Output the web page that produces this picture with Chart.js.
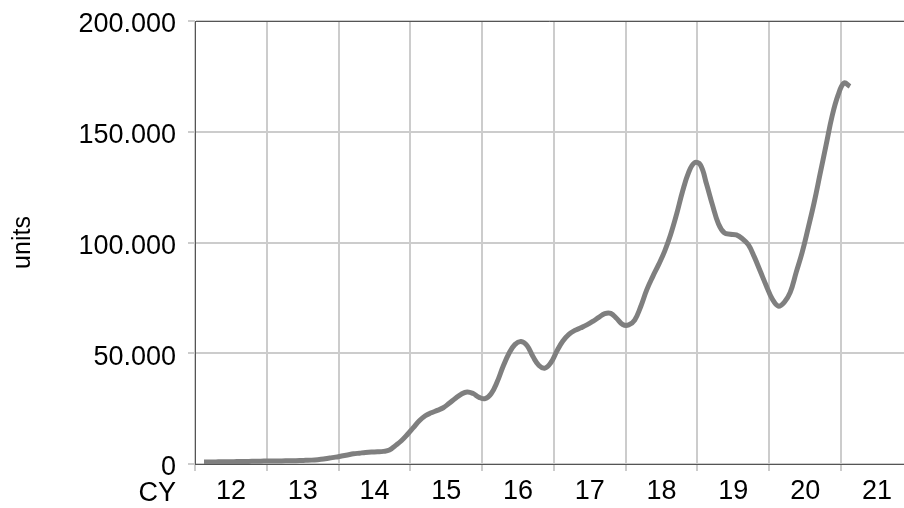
<!DOCTYPE html>
<html>
<head>
<meta charset="utf-8">
<title>units per month</title>
<script src="https://cdn.jsdelivr.net/npm/chart.js@4.4.1/dist/chart.umd.min.js"></script>
<style>
  html, body { margin: 0; padding: 0; background: #fff; }
  #wrap { width: 904px; height: 508px; }
</style>
</head>
<body>
<div id="wrap"><canvas id="unitsCanvas" width="904" height="508"></canvas></div>
<script>
// calendar years on the axis, label shown in the middle of each year
const years = [2012, 2013, 2014, 2015, 2016, 2017, 2018, 2019, 2020, 2021];
const yearLabels = ['12', '13', '14', '15', '16', '17', '18', '19', '20', '21'];
const yTicks = [0, 50000, 100000, 150000, 200000];

// monthly units, series starts in Feb 2012
const firstMonth = 2;
const u2012 = [900, 900, 950, 1000, 1000, 1050, 1100, 1150, 1200, 1250, 1300];
const u2013 = [1350, 1400, 1400, 1450, 1500, 1550, 1650, 1750, 1950, 2250, 2700, 3100];
const u2014 = [3600, 4100, 4600, 4900, 5200, 5400, 5500, 5700, 6300, 8300, 10500, 13300];
const u2015 = [16400, 19500, 21800, 23100, 24200, 25400, 27400, 29600, 31500, 32500, 31800, 30100];
const u2016 = [29500, 31700, 37000, 44000, 50000, 54000, 55300, 53500, 48500, 44500, 43300, 45800];
const u2017 = [51000, 55500, 58500, 60300, 61500, 62800, 64400, 66200, 67900, 68000, 65700, 63000];
const u2018 = [62800, 65000, 71000, 78500, 84500, 90000, 96000, 103500, 112700, 123000, 131500, 136000];
const u2019 = [135000, 126500, 117000, 108500, 104300, 103700, 103400, 101700, 99000, 93500, 87000, 80500];
const u2020 = [74500, 71300, 73000, 77500, 86500, 95500, 106500, 118000, 131000, 144000, 157000, 166500];
const u2021 = [172000, 170500];

const yearly = [u2012, u2013, u2014, u2015, u2016, u2017, u2018, u2019, u2020, u2021];

function buildPoints(){
  const pts = [];
  yearly.forEach((arr, i) => {
    const m0 = i === 0 ? firstMonth - 1 : 0;
    arr.forEach((v, j) => {
      pts.push({x: years[i] + (m0 + j + 0.5) / 12, y: v});
    });
  });
  return pts;
}

function fmtThousands(v){
  return String(v).replace(/\B(?=(\d{3})+(?!\d))/g, '.');
}

Chart.defaults.font.family = '"Liberation Sans", Arial, sans-serif';
Chart.defaults.color = '#000';

// top frame line and the "CY" caption left of the year labels
const framePlugin = {
  id: 'frame',
  afterDraw(chart){
    const {ctx, chartArea} = chart;
    ctx.save();
    ctx.strokeStyle = '#555';
    ctx.lineWidth = 1;
    ctx.beginPath();
    ctx.moveTo(chartArea.left, chartArea.top + 0.5);
    ctx.lineTo(chartArea.right, chartArea.top + 0.5);
    ctx.stroke();
    ctx.fillStyle = '#000';
    ctx.font = '27px "Liberation Sans", Arial, sans-serif';
    ctx.textAlign = 'right';
    ctx.textBaseline = 'middle';
    ctx.fillText('CY', chartArea.left - 19, chartArea.bottom + 30);
    ctx.restore();
  }
};

const isYear = v => Math.abs(v - Math.round(v)) < 1e-6;

new Chart(document.getElementById('unitsCanvas').getContext('2d'), {
  type: 'line',
  data: {
    datasets: [{
      label: 'units',
      data: buildPoints(),
      borderColor: '#7f7f7f',
      borderWidth: 5,
      pointRadius: 0,
      tension: 0.4,
      fill: false
    }]
  },
  options: {
    responsive: false,
    animation: false,
    layout: { padding: { top: 21, right: 0, bottom: 0, left: 0 } },
    plugins: { legend: { display: false }, tooltip: { enabled: false } },
    scales: {
      x: {
        type: 'linear',
        min: years[0],
        max: 2021.877,
        afterBuildTicks: scale => {
          const t = [];
          years.forEach(y => { t.push({value: y}); t.push({value: y + 0.5}); });
          scale.ticks = t;
        },
        afterFit: scale => { scale.height = 44; scale.paddingLeft = 0; scale.paddingRight = 0; },
        grid: {
          color: c => isYear(c.tick.value) ? '#cccccc' : 'rgba(0,0,0,0)',
          tickColor: c => isYear(c.tick.value) ? '#cccccc' : 'rgba(0,0,0,0)',
          lineWidth: 2,
          tickLength: 7
        },
        border: { display: true, color: '#555', width: 1 },
        ticks: {
          autoSkip: false,
          maxRotation: 0,
          padding: 4,
          font: { size: 27 },
          color: '#000',
          callback: v => isYear(v) ? '' : yearLabels[Math.floor(v) - years[0]]
        }
      },
      y: {
        min: 0,
        max: 200000,
        afterBuildTicks: scale => { scale.ticks = yTicks.map(v => ({value: v})); },
        afterFit: scale => { scale.width = 195; scale.paddingTop = 0; scale.paddingBottom = 0; },
        grid: { color: '#cccccc', lineWidth: 2, tickLength: 7 },
        border: { display: true, color: '#555', width: 1 },
        ticks: {
          padding: 12,
          labelOffset: 4,
          font: { size: 27 },
          color: '#000',
          callback: v => fmtThousands(v)
        },
        title: {
          display: true,
          text: 'units',
          font: { size: 25 },
          color: '#000',
          padding: { top: 8, bottom: 0 }
        }
      }
    }
  },
  plugins: [framePlugin]
});
</script>
</body>
</html>
